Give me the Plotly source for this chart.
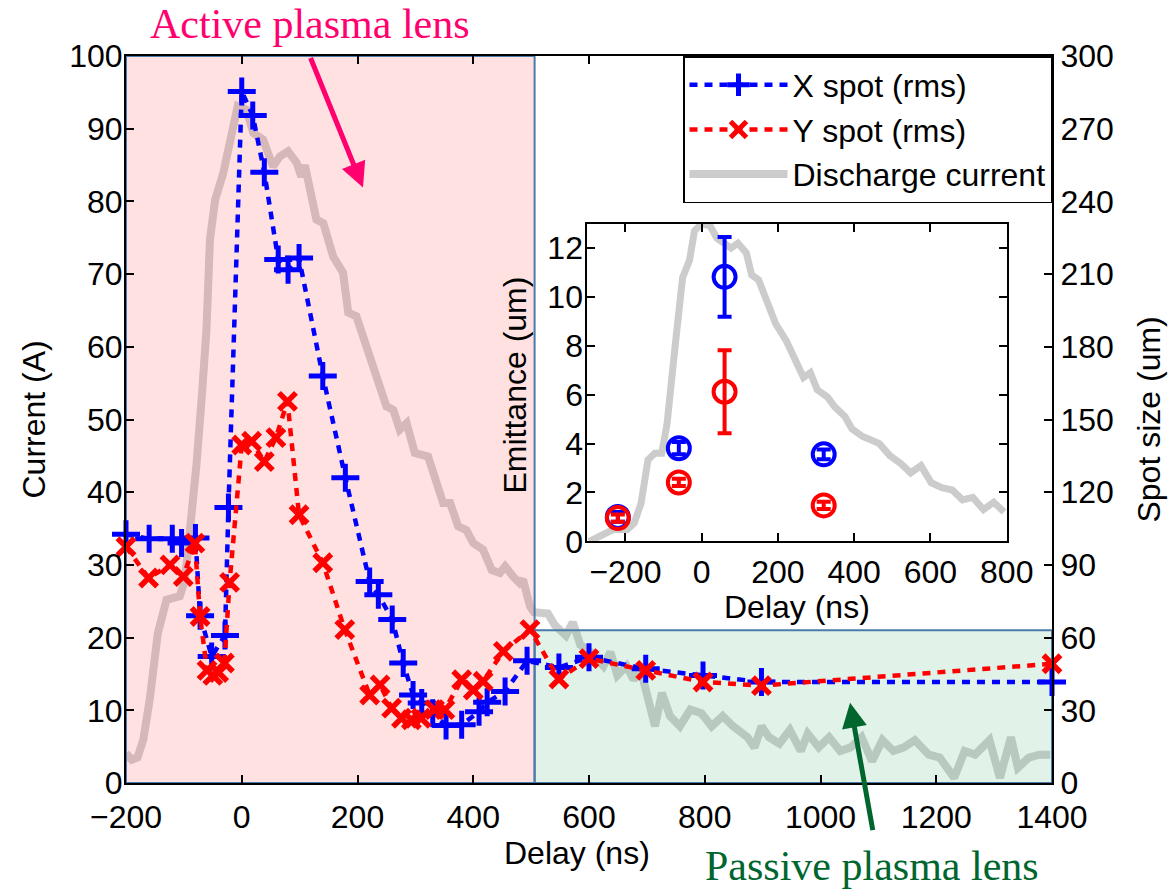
import plotly.graph_objects as go

# ---------------- main scan: rms spot size vs delay ----------------
x_delay = [-200, -160, -120, -104, -80, -72, -52, -29, -23, 0, 19, 39, 63, 80, 99,
           140, 179, 221, 236, 260, 279, 296, 311, 330, 353, 380, 410, 424, 455, 493,
           548, 600, 698, 797, 898, 1400]
x_spot_um = [102.6, 100.8, 100.8, 99.0, 101.1, 69.0, 52.2, 60.9, 113.7, 285.3, 275.4, 252.0, 216.0, 211.8, 216.6,
             168.0, 126.0, 83.1, 77.7, 67.5, 49.5, 36.3, 33.0, 28.8, 23.7, 24.0, 29.4, 33.3, 37.8, 50.4,
             47.7, 51.9, 47.1, 44.4, 41.7, 41.7]

y_delay = [-200, -161, -124, -101, -81, -72, -60, -50, -40, -30, -21, 0, 17, 39, 59, 79, 99,
           140, 178, 221, 239, 259, 276, 293, 310, 333, 351, 380, 400, 417, 452, 498,
           548, 600, 698, 797, 898, 1400]
y_spot_um = [97.5, 84.6, 90.0, 85.2, 99.0, 68.7, 46.5, 44.4, 45.6, 49.5, 82.8, 139.5, 141.0, 132.6, 142.5, 157.5, 110.7,
             90.9, 63.3, 36.3, 40.5, 30.9, 26.7, 26.1, 26.7, 30.3, 30.3, 42.6, 38.4, 42.0, 54.3, 63.3,
             42.9, 51.3, 46.5, 41.7, 40.2, 49.2]

# ---------------- discharge current trace (A) ----------------
cur_t = [-200, -190, -180, -170, -159, -145, -130, -107, -98, -89, -78, -69, -61, -55, -46, -32, -18, -7, 8, 20,
         37, 54, 66, 80, 95, 103, 109, 118, 129, 141, 158, 175, 184, 198, 216, 233, 250, 262, 273, 285,
         299, 322, 331, 348, 360, 374, 388, 400, 417, 432, 446, 455, 469, 480, 486, 498, 505, 529, 541, 560,
         572, 585, 603, 625, 637, 649, 665, 677, 689, 714, 726, 740, 757, 775, 794, 812, 831, 849, 874, 886,
         898, 911, 929, 947, 966, 978, 997, 1015, 1034, 1052, 1071, 1089, 1107, 1126, 1144, 1163, 1187, 1206, 1231, 1249,
         1267, 1292, 1310, 1329, 1341, 1360, 1378, 1397]
cur_a = [4.1, 3.2, 3.5, 6.0, 11.5, 20.6, 25.2, 25.7, 28.0, 34.8, 44.0, 53.2, 62.3, 74.7, 80.2, 83.9, 89.4, 93.1, 92.6, 89.4,
         88.5, 84.8, 86.2, 86.9, 85.3, 83.4, 85.0, 81.2, 77.5, 77.0, 72.4, 70.2, 64.7, 64.2, 59.6, 55.9, 51.8, 51.3, 48.6, 49.5,
         45.4, 44.9, 42.6, 38.5, 38.5, 35.3, 34.8, 33.0, 32.1, 29.3, 28.9, 29.8, 28.4, 27.5, 28.0, 24.3, 23.5, 23.3, 21.7, 20.3,
         22.1, 19.0, 18.0, 16.1, 18.0, 14.8, 16.1, 14.2, 15.7, 7.8, 12.4, 9.2, 7.8, 10.1, 9.6, 7.8, 9.2, 7.8, 6.3, 4.9,
         7.8, 6.3, 5.4, 7.3, 4.4, 6.8, 4.9, 6.3, 4.4, 4.9, 6.3, 3.0, 5.9, 4.4, 4.9, 5.9, 3.9, 3.5, 0.7, 4.4,
         3.9, 5.9, 0.7, 6.3, 2.1, 3.5, 3.9, 3.9]

# lens regimes
active_range = [-200, 506]
passive_range = [506, 1400]
passive_top = 21

# ---------------- inset: emittance vs delay ----------------
em_delay = [-220, -60, 60, 320]
em_x = [1.0, 3.81, 10.82, 3.56]
em_x_err = [0.2, 0.25, 1.63, 0.2]
em_y = [0.95, 2.41, 6.12, 1.47]
em_y_err = [0.15, 0.15, 1.7, 0.15]

inset_t = [-295, -259, -232, -195, -177, -159, -141, -123, -105, -91, -82, -69, -50, -32, -19, 0, 22, 40, 77, 95,
           117, 131, 149, 167, 194, 222, 240, 267, 285, 303, 330, 349, 376, 394, 421, 439, 466, 494, 521, 548,
           575, 602, 630, 657, 684, 711, 739, 766, 793]
inset_c = [0, 0.27, 0.48, 0.48, 0.75, 1.56, 3.33, 3.6, 3.6, 4.8, 6.5, 8.1, 10.8, 11.5, 12.7, 13.0, 12.9, 12.4, 12.0, 12.2,
           11.8, 10.9, 10.7, 9.9, 8.9, 8.2, 7.6, 6.7, 6.9, 6.2, 5.9, 5.5, 5.1, 4.6, 4.3, 4.15, 4.0, 3.5, 3.2, 2.8,
           3.1, 2.4, 2.2, 2.1, 1.7, 1.8, 1.3, 1.6, 1.2]

GRAY = "rgb(204,204,204)"
FRAME = "#4a7bab"
SANS = "Liberation Sans, Arial, Helvetica, sans-serif"
SERIF = "Liberation Serif, Times New Roman, serif"
FS = 32
FS_TITLE = 32

fig = go.Figure()

# discharge current underneath everything
fig.add_trace(go.Scatter(x=cur_t, y=cur_a, mode="lines", name="Discharge current",
                         line=dict(color=GRAY, width=8), legendrank=3,
                         xaxis="x", yaxis="y", hoverinfo="skip"))

# translucent regime boxes (tint the current trace below them)
fig.add_trace(go.Scatter(
    x=[active_range[0], active_range[1], active_range[1], active_range[0], active_range[0]],
    y=[0, 0, 100, 100, 0], mode="lines", fill="toself",
    fillcolor="rgba(255,105,105,0.2)", line=dict(color=FRAME, width=2),
    showlegend=False, hoverinfo="skip", xaxis="x", yaxis="y"))
fig.add_trace(go.Scatter(
    x=[passive_range[0], passive_range[1], passive_range[1], passive_range[0], passive_range[0]],
    y=[0, 0, passive_top, passive_top, 0], mode="lines", fill="toself",
    fillcolor="rgba(105,190,140,0.2)", line=dict(color=FRAME, width=2),
    showlegend=False, hoverinfo="skip", xaxis="x", yaxis="y"))

# spot sizes on the right-hand axis
fig.add_trace(go.Scatter(x=x_delay, y=x_spot_um, mode="lines+markers", name="X spot (rms)",
                         line=dict(color="blue", width=4.5, dash="8px,7px"),
                         marker=dict(symbol="cross-thin", size=20, color="blue",
                                     line=dict(color="blue", width=5)),
                         legendrank=1, cliponaxis=False, xaxis="x", yaxis="y2"))
fig.add_trace(go.Scatter(x=y_delay, y=y_spot_um, mode="lines+markers", name="Y spot (rms)",
                         line=dict(color="red", width=4.5, dash="8px,7px"),
                         marker=dict(symbol="x-thin", size=17, color="red",
                                     line=dict(color="red", width=5.5)),
                         legendrank=2, cliponaxis=False, xaxis="x", yaxis="y2"))

# inset
fig.add_trace(go.Scatter(x=inset_t, y=inset_c, mode="lines", line=dict(color=GRAY, width=7),
                         showlegend=False, hoverinfo="skip", xaxis="x3", yaxis="y3"))
fig.add_trace(go.Scatter(x=em_delay, y=em_x, mode="markers", showlegend=False,
                         marker=dict(symbol="circle-open", size=22, color="blue",
                                     line=dict(color="blue", width=4)),
                         error_y=dict(type="data", array=em_x_err, color="blue", thickness=4, width=7),
                         xaxis="x3", yaxis="y3"))
fig.add_trace(go.Scatter(x=em_delay, y=em_y, mode="markers", showlegend=False,
                         marker=dict(symbol="circle-open", size=22, color="red",
                                     line=dict(color="red", width=4)),
                         error_y=dict(type="data", array=em_y_err, color="red", thickness=4, width=7),
                         xaxis="x3", yaxis="y3"))

axis_common = dict(showgrid=False, zeroline=False, showline=True, linecolor="black", linewidth=2,
                   ticks="inside", ticklen=8, tickwidth=1.5, tickcolor="black",
                   tickfont=dict(family=SANS, size=FS, color="black"))

fig.update_layout(
    width=1168, height=893,
    margin=dict(l=126, r=116, t=56, b=110),
    paper_bgcolor="white", plot_bgcolor="white",
    font=dict(family=SANS, size=FS, color="black"),
    xaxis=dict(domain=[0, 1], range=[-200, 1400], dtick=200, mirror="ticks",
               ticklabelstandoff=5, **axis_common),
    yaxis=dict(domain=[0, 1], range=[0, 100], dtick=10, ticklabelstandoff=-5, **axis_common),
    yaxis2=dict(overlaying="y", side="right", range=[0, 300], dtick=30, ticklabelstandoff=0,
                **axis_common),
    xaxis3=dict(domain=[0.4982, 0.9511], anchor="y3", range=[-300, 800], dtick=200, mirror="ticks",
                ticklabelstandoff=1, **axis_common),
    yaxis3=dict(domain=[0.3324, 0.7695], anchor="x3", range=[0, 13], dtick=2, mirror="ticks",
                ticklabelstandoff=-4, **axis_common),
    legend=dict(x=1, xanchor="right", y=1, yanchor="top", bgcolor="white",
                bordercolor="black", borderwidth=1.5, itemwidth=98,
                font=dict(family=SANS, size=FS, color="black")),
    showlegend=True,
)

annotations = [
    # axis titles
    dict(text="Current (A)", x=-0.1004, y=0.5, textangle=-90),
    dict(text="Spot size (um)", x=1.1037, y=0.5, textangle=-90),
    dict(text="Delay (ns)", x=0.487, y=-0.0965),
    dict(text="Emittance (um)", x=0.42, y=0.548, textangle=-90),
    dict(text="Delay (ns)", x=0.7246, y=0.2426),
]
for a in annotations:
    fig.add_annotation(xref="paper", yref="paper", showarrow=False, xanchor="center", yanchor="middle",
                       font=dict(family=SANS, size=FS_TITLE, color="black"), **a)

# regime labels with arrows
fig.add_annotation(xref="paper", yref="paper", x=0.1987, y=1.0447, text="Active plasma lens",
                   xanchor="center", yanchor="middle",
                   showarrow=False, font=dict(family=SERIF, size=42, color="#ff006e"))
fig.add_annotation(xref="paper", yref="paper", x=0.2559, y=0.8191, ax=-53, ay=-131, text="",
                   showarrow=True, arrowhead=2, arrowsize=1, arrowwidth=5, arrowcolor="#ff006e", standoff=0)
fig.add_annotation(xref="paper", yref="paper", x=0.8056, y=-0.1138, text="Passive plasma lens",
                   xanchor="center", yanchor="middle",
                   showarrow=False, font=dict(family=SERIF, size=42, color="#00662e"))
fig.add_annotation(xref="paper", yref="paper", x=0.7819, y=0.1105, ax=23, ay=129, text="",
                   showarrow=True, arrowhead=2, arrowsize=1, arrowwidth=5, arrowcolor="#00662e", standoff=0)

fig.write_html("out.html")
